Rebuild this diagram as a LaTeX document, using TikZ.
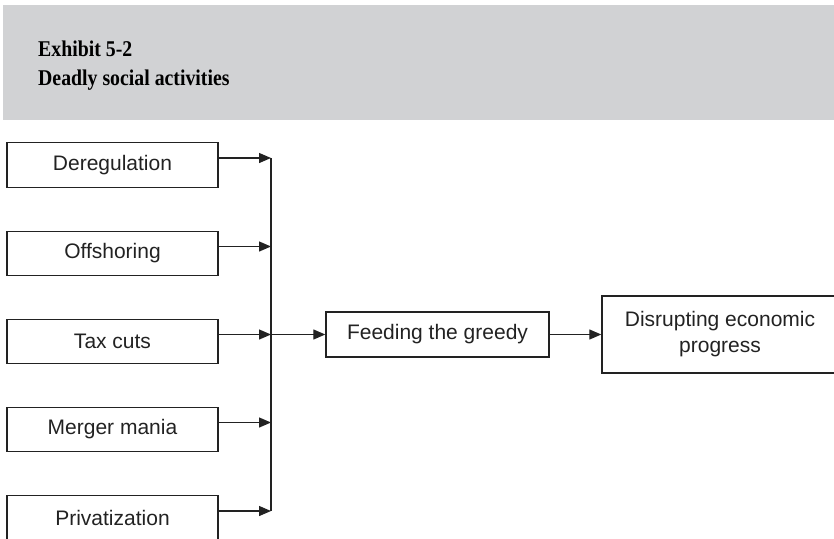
\documentclass[tikz,border=0pt]{standalone}
\usepackage{fontspec}
\setmainfont{Liberation Sans}
\newfontfamily\headfont{Liberation Serif}[FakeStretch=0.88]
\usetikzlibrary{arrows.meta}

\definecolor{bandgray}{HTML}{D1D2D4}
\definecolor{ink}{HTML}{222222}

\begin{document}
\begin{tikzpicture}[x=1pt, y=-1pt,
  stagebox/.style={draw=ink, line width=1.4pt, text=ink, inner sep=0pt,
    font=\fontsize{21}{26}\selectfont, align=center},
  causebox/.style={stagebox, minimum width=211pt, minimum height=44.5pt},
  flow/.style={draw=ink, line width=1.3pt, -{Triangle[length=12pt,width=10pt]}},
  busline/.style={draw=ink, line width=1.3pt},
  heading/.style={anchor=base west, inner sep=0pt, text=black,
    font=\headfont\bfseries\fontsize{22.5}{27}\selectfont}]
  \useasboundingbox (0,0) rectangle (834,538);
  \clip (0,0) rectangle (834,538);

  % header band with the exhibit title
  \fill[bandgray] (3,5) rectangle (834,120);
  \node[heading] (exh) at (38,56) {Exhibit 5-2};
  \node[heading] (ttl) at (38,85) {Deadly social activities};

  % the five activities
  \node[causebox] (c1) at (112.5,165)   {Deregulation};
  \node[causebox] (c2) at (112.5,253.5) {Offshoring};
  \node[causebox] (c3) at (112.5,341.5) {Tax cuts};
  \node[causebox] (c4) at (112.5,429.5) {Merger mania};
  \node[causebox] (c5) at (112.5,518)   {Privatization};

  % results
  \node[stagebox, minimum width=223pt, minimum height=45pt] (feed) at (437.5,334.5) {Feeding the greedy};
  \node[stagebox, minimum width=236pt, minimum height=77pt] (dis) at (720,334.5)
    {Disrupting economic\\progress};

  % collecting bus
  \coordinate (bus) at (271,0);
  \coordinate (j) at (feed.west -| bus);
  \foreach \n in {c1,c2,c3,c4,c5}{
    \draw[flow] ([yshift=7pt]\n.east) -- ([yshift=7pt]\n.east -| bus);
  }
  \draw[busline] ([yshift=7pt]c1.east -| bus) -- ([yshift=7pt]c5.east -| bus);
  \draw[flow] (j) -- (feed.west);
  \draw[flow] (feed.east) -- (dis.west);
\end{tikzpicture}
\end{document}
